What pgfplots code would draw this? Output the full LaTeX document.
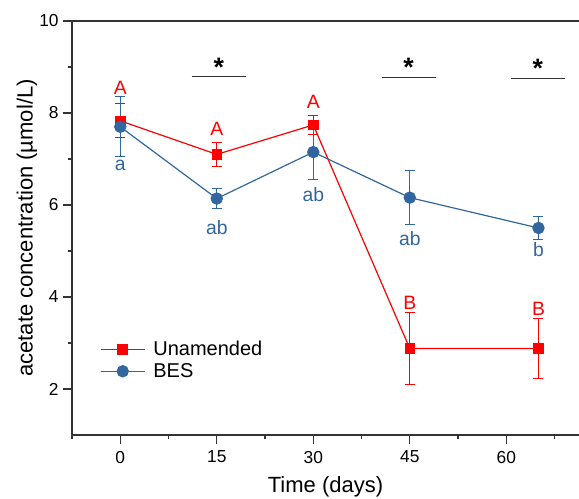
\documentclass[border=0pt]{standalone}
\usepackage{pgfplots}
\pgfplotsset{compat=1.18}
\usepackage{fontspec}
\setmainfont{Liberation Sans}
\definecolor{unred}{HTML}{FF0000}
\definecolor{besblue}{HTML}{31669E}
\definecolor{axgray}{HTML}{333333}

\begin{document}
\begin{tikzpicture}
\begin{axis}[
    scale only axis, width=380.25pt, height=310.5pt,
    xmin=-7.5, xmax=71.3, ymin=1, ymax=10,
    axis x line=box, axis y line=left,
    y axis line style={-},
    axis line style={axgray, line width=0.9pt},
    xtick={0,15,30,45,60}, minor xtick={-7.5,7.5,22.5,37.5,52.5,67.5},
    ytick={2,4,6,8,10}, minor ytick={3,5,7,9},
    tick align=outside, xtick pos=bottom, ytick pos=left,
    major tick length=6.5pt, minor tick length=3.25pt,
    tick style={axgray, line width=0.9pt},
    ticklabel style={font=\fontsize{13}{15}\selectfont},
    xticklabel style={yshift=-2pt},
    /pgf/number format/assume math mode=true,
    xlabel={Time (days)},
    ylabel={acetate concentration (µmol/L)},
    label style={font=\fontsize{16.5}{19}\selectfont},
    x label style={at={(axis description cs:0.5,-0.1256)}, anchor=center},
    y label style={at={(axis description cs:-0.0888,0.5)}, anchor=center},
    legend cell align=left,
    legend style={at={(axis description cs:0.055,0.233)}, anchor=north west,
        draw=none, fill=none, font=\fontsize{15}{18}\selectfont,
        row sep=0pt, inner sep=0pt},
    legend image code/.code={\draw[mark repeat=2,mark phase=2] plot coordinates {(0pt,0pt)(16.5pt,0pt)(33pt,0pt)};
        \path (37pt,0pt);},
    clip=false,
]
\addplot[unred, line width=0.9pt, mark=square*, mark size=3.5pt,
    error bars/.cd, y dir=both, y explicit,
    error bar style={line width=0.9pt},
    error mark options={solid, rotate=90, mark size=3.75pt, line width=0.9pt}]
    table[x=x, y=y, y error=e] {
    x   y     e
    0   7.83  0.37
    15  7.10  0.26
    30  7.74  0.21
    45  2.88  0.78
    65  2.88  0.66
    };
\addlegendentry{Unamended}
\addplot[besblue, line width=0.9pt, mark=*, mark size=4.2pt,
    error bars/.cd, y dir=both, y explicit,
    error bar style={line width=0.9pt},
    error mark options={solid, rotate=90, mark size=3.75pt, line width=0.9pt}]
    table[x=x, y=y, y error=e] {
    x   y     e
    0   7.70  0.65
    15  6.14  0.22
    30  7.15  0.60
    45  6.16  0.59
    65  5.50  0.25
    };
\addlegendentry{BES}

% letters
\begin{scope}[every node/.style={anchor=base, font=\fontsize{14.5}{16}\selectfont, inner sep=0pt}]
\node[unred] at (axis cs:0,8.41) {A};
\node[unred] at (axis cs:15,7.50) {A};
\node[unred] at (axis cs:30,8.10) {A};
\node[unred] at (axis cs:45,3.72) {B};
\node[unred] at (axis cs:65,3.59) {B};
\node[besblue] at (axis cs:0,6.75) {a};
\node[besblue] at (axis cs:15,5.35) {ab};
\node[besblue] at (axis cs:30,6.07) {ab};
\node[besblue] at (axis cs:45,5.13) {ab};
\node[besblue] at (axis cs:65,4.88) {b};
\end{scope}

% significance marks
\draw[axgray, line width=0.9pt] (axis cs:11.1,8.80) -- (axis cs:19.5,8.80);
\draw[axgray, line width=0.9pt] (axis cs:40.7,8.78) -- (axis cs:49.0,8.78);
\draw[axgray, line width=0.9pt] (axis cs:60.7,8.75) -- (axis cs:69.1,8.75);
\begin{scope}[every node/.style={anchor=center, font=\fontsize{20}{22}\selectfont\bfseries, inner sep=0pt}]
\node at (axis cs:15.3,9.00) {*};
\node at (axis cs:44.8,9.00) {*};
\node at (axis cs:64.9,8.98) {*};
\end{scope}
\end{axis}
\path (current axis.south west) ++(-54pt,-48pt) coordinate (bl);
\path (current axis.north east) ++(0pt,15.75pt) coordinate (tr);
\pgfresetboundingbox
\useasboundingbox (bl) rectangle (tr);
\end{tikzpicture}
\end{document}
